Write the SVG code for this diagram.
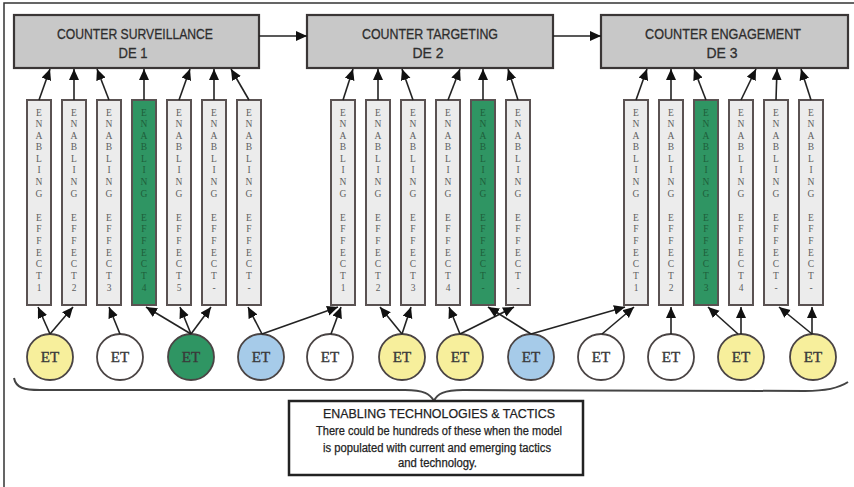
<svg xmlns="http://www.w3.org/2000/svg" width="854" height="487" viewBox="0 0 854 487">
<defs>
<marker id="ah" markerUnits="userSpaceOnUse" markerWidth="12" markerHeight="11" refX="11" refY="5" orient="auto">
<path d="M0,0 L11,5 L0,10 z" fill="#111"/>
</marker>
<style>
.frame{fill:none;stroke:#333;stroke-width:1.5}
.de rect{fill:#c8c8c8;stroke:#3a3636;stroke-width:2.2}
.de text{font-family:"Liberation Sans",Arial,sans-serif;font-size:15px;fill:#2e2e2e;text-anchor:middle;stroke:#2e2e2e;stroke-width:0.3}
.ee rect{fill:#ececec;stroke:#5a5252;stroke-width:2}
.ee.g rect{fill:#2f9563}
.ee text{font-family:"Liberation Serif","Times New Roman",serif;font-size:9.5px;fill:#5e5e5e;text-anchor:middle}
.ee.g text{fill:#1e5e3a}
.et ellipse{stroke:#4a4444;stroke-width:1.8}
.et text{font-family:"Liberation Serif","Times New Roman",serif;font-size:15px;fill:#3a3a3a;text-anchor:middle;stroke:#3a3a3a;stroke-width:0.4}
.y ellipse{fill:#f7ef9c}
.w ellipse{fill:#ffffff}
.gr ellipse{fill:#2f9563}
.b ellipse{fill:#a6cbe9}
.conn line{stroke:#222;stroke-width:1.6;marker-end:url(#ah)}
.brace{fill:none;stroke:#444;stroke-width:2}
.note rect{fill:#fff;stroke:#222;stroke-width:2.5}
.note text{font-family:"Liberation Sans",Arial,sans-serif;fill:#222;text-anchor:middle;stroke:#222;stroke-width:0.25}
</style>
</defs>
<rect width="854" height="487" fill="#fff"/>
<path class="frame" d="M4,487 V3 H854"/>

<g id="de1" class="de"><rect x="14" y="15" width="245" height="53"/><text x="135" y="38.5" textLength="156" lengthAdjust="spacingAndGlyphs">COUNTER SURVEILLANCE</text><text x="133" y="57.5" textLength="29" lengthAdjust="spacingAndGlyphs">DE 1</text></g>
<g id="de2" class="de"><rect x="307" y="15" width="246" height="53"/><text x="430" y="38.5" textLength="136" lengthAdjust="spacingAndGlyphs">COUNTER TARGETING</text><text x="428" y="57.5" textLength="31" lengthAdjust="spacingAndGlyphs">DE 2</text></g>
<g id="de3" class="de"><rect x="601" y="15" width="247" height="53"/><text x="723" y="38.5" textLength="156" lengthAdjust="spacingAndGlyphs">COUNTER ENGAGEMENT</text><text x="722" y="57.5" textLength="31" lengthAdjust="spacingAndGlyphs">DE 3</text></g>

<g id="ee1-1" class="ee" transform="translate(39,0)"><rect x="-12" y="100" width="24" height="205"/><text x="0 0 0 0 0 0 0 0 0 0 0 0 0 0 0 0" y="115.5 127.1 138.6 150.2 161.8 173.4 184.9 196.5 208.5 220.5 232.2 243.8 255.5 267.2 278.8 290.5">ENABLING EFFECT1</text></g>
<g id="ee1-2" class="ee" transform="translate(74,0)"><rect x="-12" y="100" width="24" height="205"/><text x="0 0 0 0 0 0 0 0 0 0 0 0 0 0 0 0" y="115.5 127.1 138.6 150.2 161.8 173.4 184.9 196.5 208.5 220.5 232.2 243.8 255.5 267.2 278.8 290.5">ENABLING EFFECT2</text></g>
<g id="ee1-3" class="ee" transform="translate(109,0)"><rect x="-12" y="100" width="24" height="205"/><text x="0 0 0 0 0 0 0 0 0 0 0 0 0 0 0 0" y="115.5 127.1 138.6 150.2 161.8 173.4 184.9 196.5 208.5 220.5 232.2 243.8 255.5 267.2 278.8 290.5">ENABLING EFFECT3</text></g>
<g id="ee1-4" class="ee g" transform="translate(144,0)"><rect x="-12" y="100" width="24" height="205"/><text x="0 0 0 0 0 0 0 0 0 0 0 0 0 0 0 0" y="115.5 127.1 138.6 150.2 161.8 173.4 184.9 196.5 208.5 220.5 232.2 243.8 255.5 267.2 278.8 290.5">ENABLING EFFECT4</text></g>
<g id="ee1-5" class="ee" transform="translate(179,0)"><rect x="-12" y="100" width="24" height="205"/><text x="0 0 0 0 0 0 0 0 0 0 0 0 0 0 0 0" y="115.5 127.1 138.6 150.2 161.8 173.4 184.9 196.5 208.5 220.5 232.2 243.8 255.5 267.2 278.8 290.5">ENABLING EFFECT5</text></g>
<g id="ee1-6" class="ee" transform="translate(214,0)"><rect x="-12" y="100" width="24" height="205"/><text x="0 0 0 0 0 0 0 0 0 0 0 0 0 0 0 0" y="115.5 127.1 138.6 150.2 161.8 173.4 184.9 196.5 208.5 220.5 232.2 243.8 255.5 267.2 278.8 290.5">ENABLING EFFECT-</text></g>
<g id="ee1-7" class="ee" transform="translate(249,0)"><rect x="-12" y="100" width="24" height="205"/><text x="0 0 0 0 0 0 0 0 0 0 0 0 0 0 0 0" y="115.5 127.1 138.6 150.2 161.8 173.4 184.9 196.5 208.5 220.5 232.2 243.8 255.5 267.2 278.8 290.5">ENABLING EFFECT-</text></g>

<g id="ee2-1" class="ee" transform="translate(343,0)"><rect x="-12" y="100" width="24" height="205"/><text x="0 0 0 0 0 0 0 0 0 0 0 0 0 0 0 0" y="115.5 127.1 138.6 150.2 161.8 173.4 184.9 196.5 208.5 220.5 232.2 243.8 255.5 267.2 278.8 290.5">ENABLING EFFECT1</text></g>
<g id="ee2-2" class="ee" transform="translate(378,0)"><rect x="-12" y="100" width="24" height="205"/><text x="0 0 0 0 0 0 0 0 0 0 0 0 0 0 0 0" y="115.5 127.1 138.6 150.2 161.8 173.4 184.9 196.5 208.5 220.5 232.2 243.8 255.5 267.2 278.8 290.5">ENABLING EFFECT2</text></g>
<g id="ee2-3" class="ee" transform="translate(413,0)"><rect x="-12" y="100" width="24" height="205"/><text x="0 0 0 0 0 0 0 0 0 0 0 0 0 0 0 0" y="115.5 127.1 138.6 150.2 161.8 173.4 184.9 196.5 208.5 220.5 232.2 243.8 255.5 267.2 278.8 290.5">ENABLING EFFECT3</text></g>
<g id="ee2-4" class="ee" transform="translate(448,0)"><rect x="-12" y="100" width="24" height="205"/><text x="0 0 0 0 0 0 0 0 0 0 0 0 0 0 0 0" y="115.5 127.1 138.6 150.2 161.8 173.4 184.9 196.5 208.5 220.5 232.2 243.8 255.5 267.2 278.8 290.5">ENABLING EFFECT4</text></g>
<g id="ee2-5" class="ee g" transform="translate(483,0)"><rect x="-12" y="100" width="24" height="205"/><text x="0 0 0 0 0 0 0 0 0 0 0 0 0 0 0 0" y="115.5 127.1 138.6 150.2 161.8 173.4 184.9 196.5 208.5 220.5 232.2 243.8 255.5 267.2 278.8 290.5">ENABLING EFFECT-</text></g>
<g id="ee2-6" class="ee" transform="translate(518,0)"><rect x="-12" y="100" width="24" height="205"/><text x="0 0 0 0 0 0 0 0 0 0 0 0 0 0 0 0" y="115.5 127.1 138.6 150.2 161.8 173.4 184.9 196.5 208.5 220.5 232.2 243.8 255.5 267.2 278.8 290.5">ENABLING EFFECT-</text></g>

<g id="ee3-1" class="ee" transform="translate(636,0)"><rect x="-12" y="100" width="24" height="205"/><text x="0 0 0 0 0 0 0 0 0 0 0 0 0 0 0 0" y="115.5 127.1 138.6 150.2 161.8 173.4 184.9 196.5 208.5 220.5 232.2 243.8 255.5 267.2 278.8 290.5">ENABLING EFFECT1</text></g>
<g id="ee3-2" class="ee" transform="translate(671,0)"><rect x="-12" y="100" width="24" height="205"/><text x="0 0 0 0 0 0 0 0 0 0 0 0 0 0 0 0" y="115.5 127.1 138.6 150.2 161.8 173.4 184.9 196.5 208.5 220.5 232.2 243.8 255.5 267.2 278.8 290.5">ENABLING EFFECT2</text></g>
<g id="ee3-3" class="ee g" transform="translate(706,0)"><rect x="-12" y="100" width="24" height="205"/><text x="0 0 0 0 0 0 0 0 0 0 0 0 0 0 0 0" y="115.5 127.1 138.6 150.2 161.8 173.4 184.9 196.5 208.5 220.5 232.2 243.8 255.5 267.2 278.8 290.5">ENABLING EFFECT3</text></g>
<g id="ee3-4" class="ee" transform="translate(741,0)"><rect x="-12" y="100" width="24" height="205"/><text x="0 0 0 0 0 0 0 0 0 0 0 0 0 0 0 0" y="115.5 127.1 138.6 150.2 161.8 173.4 184.9 196.5 208.5 220.5 232.2 243.8 255.5 267.2 278.8 290.5">ENABLING EFFECT4</text></g>
<g id="ee3-5" class="ee" transform="translate(776,0)"><rect x="-12" y="100" width="24" height="205"/><text x="0 0 0 0 0 0 0 0 0 0 0 0 0 0 0 0" y="115.5 127.1 138.6 150.2 161.8 173.4 184.9 196.5 208.5 220.5 232.2 243.8 255.5 267.2 278.8 290.5">ENABLING EFFECT-</text></g>
<g id="ee3-6" class="ee" transform="translate(811,0)"><rect x="-12" y="100" width="24" height="205"/><text x="0 0 0 0 0 0 0 0 0 0 0 0 0 0 0 0" y="115.5 127.1 138.6 150.2 161.8 173.4 184.9 196.5 208.5 220.5 232.2 243.8 255.5 267.2 278.8 290.5">ENABLING EFFECT-</text></g>

<g id="et1" class="et y"><ellipse cx="50" cy="357" rx="23" ry="23"/><text x="50" y="362">ET</text></g>
<g id="et2" class="et w"><ellipse cx="120" cy="357" rx="23" ry="23"/><text x="120" y="362">ET</text></g>
<g id="et3" class="et gr"><ellipse cx="191" cy="357" rx="23" ry="23"/><text x="191" y="362">ET</text></g>
<g id="et4" class="et b"><ellipse cx="261" cy="357" rx="23" ry="23"/><text x="261" y="362">ET</text></g>
<g id="et5" class="et w"><ellipse cx="330" cy="357" rx="23" ry="23"/><text x="330" y="362">ET</text></g>
<g id="et6" class="et y"><ellipse cx="402" cy="357" rx="23" ry="23"/><text x="402" y="362">ET</text></g>
<g id="et7" class="et y"><ellipse cx="460" cy="357" rx="23" ry="23"/><text x="460" y="362">ET</text></g>
<g id="et8" class="et b"><ellipse cx="531" cy="357" rx="23" ry="23"/><text x="531" y="362">ET</text></g>
<g id="et9" class="et w"><ellipse cx="601" cy="357" rx="23" ry="23"/><text x="601" y="362">ET</text></g>
<g id="et10" class="et w"><ellipse cx="671" cy="357" rx="23" ry="23"/><text x="671" y="362">ET</text></g>
<g id="et11" class="et y"><ellipse cx="741" cy="357" rx="23" ry="23"/><text x="741" y="362">ET</text></g>
<g id="et12" class="et y"><ellipse cx="813" cy="357" rx="23" ry="23"/><text x="813" y="362">ET</text></g>

<g id="connectors" class="conn">
<line x1="259" y1="36" x2="307" y2="36"/>
<line x1="553" y1="36" x2="601" y2="36"/>
<line x1="39" y1="100" x2="50" y2="69"/>
<line x1="74" y1="100" x2="74" y2="69"/>
<line x1="109" y1="100" x2="97" y2="69"/>
<line x1="144" y1="100" x2="144" y2="69"/>
<line x1="179" y1="100" x2="190" y2="69"/>
<line x1="214" y1="100" x2="214" y2="69"/>
<line x1="249" y1="100" x2="231" y2="69"/>
<line x1="343" y1="100" x2="353" y2="69"/>
<line x1="378" y1="100" x2="378" y2="69"/>
<line x1="413" y1="100" x2="402" y2="69"/>
<line x1="448" y1="100" x2="460" y2="69"/>
<line x1="483" y1="100" x2="483" y2="69"/>
<line x1="518" y1="100" x2="508" y2="69"/>
<line x1="636" y1="100" x2="647" y2="69"/>
<line x1="671" y1="100" x2="671" y2="69"/>
<line x1="706" y1="100" x2="694" y2="69"/>
<line x1="741" y1="100" x2="756" y2="69"/>
<line x1="776" y1="100" x2="777" y2="69"/>
<line x1="811" y1="100" x2="801" y2="69"/>
<line x1="50" y1="334" x2="38" y2="307"/>
<line x1="50" y1="334" x2="73" y2="307"/>
<line x1="120" y1="334" x2="109" y2="307"/>
<line x1="191" y1="334" x2="146" y2="307"/>
<line x1="191" y1="334" x2="180" y2="307"/>
<line x1="191" y1="334" x2="211" y2="307"/>
<line x1="262" y1="334" x2="248" y2="307"/>
<line x1="262" y1="334" x2="338" y2="307"/>
<line x1="331" y1="334" x2="341" y2="307"/>
<line x1="402" y1="334" x2="380" y2="307"/>
<line x1="402" y1="334" x2="411" y2="307"/>
<line x1="460" y1="334" x2="449" y2="307"/>
<line x1="460" y1="334" x2="514" y2="307"/>
<line x1="531" y1="334" x2="488" y2="307"/>
<line x1="531" y1="334" x2="625" y2="307"/>
<line x1="602" y1="334" x2="634" y2="307"/>
<line x1="671" y1="334" x2="671" y2="307"/>
<line x1="738" y1="334" x2="708" y2="307"/>
<line x1="741" y1="334" x2="741" y2="307"/>
<line x1="812" y1="334" x2="779" y2="307"/>
<line x1="812" y1="334" x2="812" y2="307"/>
</g>

<path class="brace" d="M14,378 C16,388 24,390 40,390 L405,390 C424,390 430,394 434,401 C437,394 444,390 463,390 L805,391 C830,391 842,386 848,382"/>

<g id="note" class="note">
<rect x="289" y="401" width="294" height="74"/>
<text x="439" y="418" font-size="13.5" textLength="232" lengthAdjust="spacingAndGlyphs">ENABLING TECHNOLOGIES &amp; TACTICS</text>
<text x="439" y="435" font-size="12" textLength="246" lengthAdjust="spacingAndGlyphs">There could be hundreds of these when the model</text>
<text x="437" y="452" font-size="12" textLength="228" lengthAdjust="spacingAndGlyphs">is populated with current and emerging tactics</text>
<text x="437.5" y="467" font-size="12" textLength="79" lengthAdjust="spacingAndGlyphs">and technology.</text>
</g>
</svg>
